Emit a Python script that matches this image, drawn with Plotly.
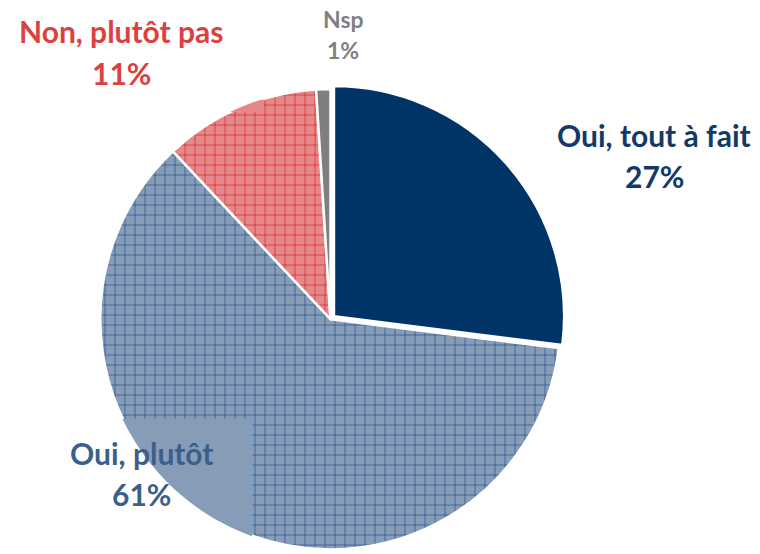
import numpy as np
import plotly.graph_objects as go

# ---- data ----
categories = ["Oui, tout à fait", "Oui, plutôt", "Non, plutôt pas", "Nsp"]
values = [27, 61, 11, 1]
pct_labels = ["27%", "61%", "11%", "1%"]

# ---- style ----
W, H = 760, 554
CX, CY, R = 330.5, 319.5, 230.5
PULL = 0.02
slice_colors = ["#003366", "#869CB7", "#E6878A", "#7F7F7F"]
pattern_shapes = ["", "+", "+", ""]
pattern_fg = ["#003366", "#1A4A85", "#D01818", "#7F7F7F"]
label_colors = ["#123A68", "#3B5F8C", "#DD4040", "#808080"]
FONT = "Lato"

side = 2 * R * (1 + PULL)
dom_x = [(CX - side / 2) / W, (CX + side / 2) / W]
dom_y = [max(0.0, 1 - (CY + side / 2) / H), 1 - (CY - side / 2) / H]

fig = go.Figure(go.Pie(
    labels=categories,
    values=values,
    sort=False,
    direction="clockwise",
    rotation=0,
    pull=[PULL, 0, 0, 0],
    textinfo="none",
    hoverinfo="label+percent",
    domain=dict(x=dom_x, y=dom_y),
    marker=dict(
        colors=slice_colors,
        line=dict(color="white", width=2.5),
        pattern=dict(shape=pattern_shapes, fgcolor=pattern_fg,
                     bgcolor=slice_colors, size=10, solidity=0.12,
                     fillmode="replace"),
    ),
))


def px(x):
    return x / W


def py(y):
    return 1 - y / H


def arc_box(x_right, y_top, y_bot, color):
    # region inside circle, to the left of x_right, between y_top and y_bot
    ys = np.linspace(y_top, y_bot, 60)
    pts = []
    for y in ys:
        d = R * R - (y - CY) ** 2
        if d < 0:
            continue
        xl = CX - np.sqrt(d)
        if xl <= x_right:
            pts.append((xl, y))
    path = "M {} {}".format(px(x_right), py(pts[0][1]))
    for (x, y) in pts:
        path += " L {} {}".format(px(x), py(y))
    path += " L {} {} Z".format(px(x_right), py(pts[-1][1]))
    return dict(type="path", path=path, xref="paper", yref="paper",
                fillcolor=color, line=dict(width=0), layer="above")


shapes = [
    arc_box(252, 419, 536, slice_colors[1]),
    arc_box(264, 60, 112, slice_colors[2]),
]

ann_pos = [
    (654, 134.5, 176, 30),
    (141, 452.5, 493.5, 30),
    (121, 31, 73, 30),
    (343, 19, 50, 23),
]
annotations = []
for cat, pct, col, (x, y1, y2, fs) in zip(categories, pct_labels, label_colors, ann_pos):
    for txt, yy in ((cat, y1), (pct, y2)):
        annotations.append(dict(
            text="<b>" + txt + "</b>", x=px(x), y=py(yy), xref="paper", yref="paper",
            xanchor="center", yanchor="middle", showarrow=False,
            font=dict(family=FONT, size=fs, color=col),
        ))

fig.update_layout(
    width=W, height=H,
    margin=dict(l=0, r=0, t=0, b=0),
    paper_bgcolor="white", plot_bgcolor="white",
    showlegend=False,
    shapes=shapes,
    annotations=annotations,
)

fig.write_html("out.html",
               config={"displayModeBar": False},
               post_script="document.body.style.margin='0';document.body.style.overflow='hidden';")
